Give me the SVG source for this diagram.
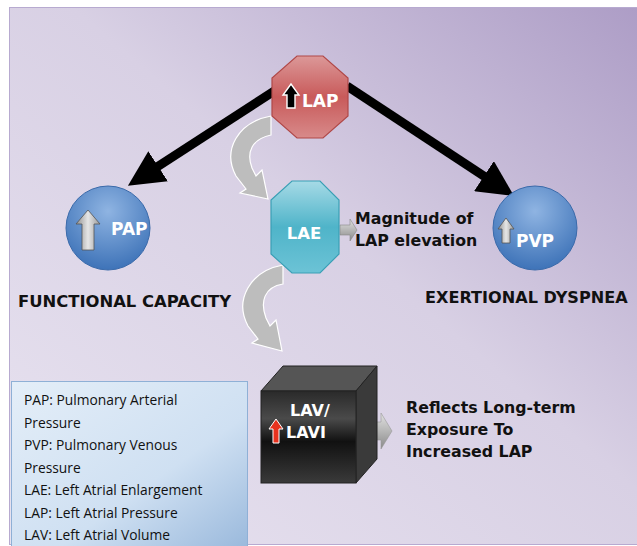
<svg xmlns="http://www.w3.org/2000/svg" width="637" height="546" viewBox="0 0 637 546">
<defs>
<linearGradient id="bg" x1="1" y1="0" x2="0" y2="1">
<stop offset="0" stop-color="#ad9dc6"/>
<stop offset="0.45" stop-color="#d8d0e4"/>
<stop offset="1" stop-color="#e8e3f0"/>
</linearGradient>
<linearGradient id="red" x1="0" y1="0" x2="0" y2="1">
<stop offset="0" stop-color="#dc9898"/>
<stop offset="0.5" stop-color="#c85a5a"/>
<stop offset="1" stop-color="#d88a8a"/>
</linearGradient>
<linearGradient id="teal" x1="0" y1="0" x2="0" y2="1">
<stop offset="0" stop-color="#a6dae6"/>
<stop offset="0.5" stop-color="#4fb4c9"/>
<stop offset="1" stop-color="#6cc3d6"/>
</linearGradient>
<radialGradient id="blue" cx="0.5" cy="0.3" r="0.7">
<stop offset="0" stop-color="#8fb4e2"/>
<stop offset="1" stop-color="#3e73b8"/>
</radialGradient>
<linearGradient id="cube" x1="0" y1="0" x2="0" y2="1">
<stop offset="0" stop-color="#2a2a2a"/>
<stop offset="0.3" stop-color="#4a4a4a"/>
<stop offset="0.55" stop-color="#111"/>
<stop offset="1" stop-color="#3a3a3a"/>
</linearGradient>
<linearGradient id="legend" x1="0" y1="0" x2="1" y2="1">
<stop offset="0" stop-color="#e4eef8"/>
<stop offset="0.6" stop-color="#cfe0f2"/>
<stop offset="1" stop-color="#9ab9dc"/>
</linearGradient>
<linearGradient id="gray" x1="0" y1="0" x2="1" y2="0">
<stop offset="0" stop-color="#8e8e8e"/>
<stop offset="0.5" stop-color="#e6e6e6"/>
<stop offset="1" stop-color="#9a9a9a"/>
</linearGradient>
<linearGradient id="grayv" x1="0" y1="0" x2="0" y2="1">
<stop offset="0" stop-color="#e2e2e2"/>
<stop offset="1" stop-color="#8a8a8a"/>
</linearGradient>
<marker id="ah" viewBox="0 0 10 10" refX="6" refY="5" markerWidth="4" markerHeight="4" orient="auto">
<path d="M0,0 L10,5 L0,10 z" fill="#000"/>
</marker>
</defs>
<style>
.lbl{font-family:"DejaVu Sans",Verdana,sans-serif;font-weight:bold;fill:#fff}
.blk{font-family:"DejaVu Sans",Verdana,sans-serif;font-weight:bold;fill:#111}
.leg{font-family:"Open Sans","Liberation Sans",sans-serif;font-size:13.8px;fill:#111}
.curve{fill:#bdbdbd;stroke:#fff;stroke-width:1.2}
</style>
<rect x="0" y="0" width="637" height="546" fill="#fff"/>
<rect x="9.5" y="7.5" width="628" height="537" fill="url(#bg)" stroke="#b7aad0" stroke-width="1"/>

<g id="connectors">
<line x1="282" y1="86" x2="140" y2="178" stroke="#000" stroke-width="9" marker-end="url(#ah)"/>
<line x1="347" y1="86" x2="502" y2="188" stroke="#000" stroke-width="9" marker-end="url(#ah)"/>
<path class="curve" d="M271,116 C238,122 222,150 236,176 L246,189 L240,193 L268,199 L262,170 L256,176 L252,168 C246,152 252,139 271,135 z"/>
<path class="curve" d="M283,265 C250,271 234,300 248,326 L258,339 L252,343 L282,351 L276,320 L270,326 L266,318 C260,302 264,287 283,284 z"/>
<path d="M340,225 L350,225 L350,219 L357,230 L350,241 L350,235 L340,235 z" fill="url(#grayv)" stroke="#888" stroke-width="0.6"/>
<path d="M362,422 L381,422 L381,413 L392,431 L381,449 L381,440 L362,440 z" fill="url(#grayv)" stroke="#999" stroke-width="0.6"/>
</g>

<g id="node-lap">
<polygon points="297,56 323,56 348,78 348,116 323,138 297,138 272,116 272,78" fill="url(#red)" stroke="#b04848" stroke-width="1.2"/>
<path d="M287,108 L287,95 L283,95 L291,84 L299,95 L295,95 L295,108 z" fill="#000" stroke="#fff" stroke-width="1.4"/>
<text class="lbl" x="302" y="107" font-size="17">LAP</text>
</g>

<g id="node-lae">
<polygon points="292,181 320,181 339,200 339,254 320,273 292,273 271,254 271,200" fill="url(#teal)" stroke="#3a9fb5" stroke-width="1.2"/>
<text class="lbl" x="304" y="239" font-size="16.5" text-anchor="middle">LAE</text>
<text class="blk" x="355" y="224" font-size="15.8">Magnitude of</text>
<text class="blk" x="355" y="246" font-size="15.8">LAP elevation</text>
</g>

<g id="node-pap">
<circle cx="108" cy="228" r="42" fill="url(#blue)" stroke="#3a6aaa" stroke-width="1"/>
<path d="M82,250 L82,224 L76,224 L88,210 L100,224 L94,224 L94,250 z" fill="url(#gray)" stroke="#555" stroke-width="0.8"/>
<text class="lbl" x="111" y="235" font-size="17">PAP</text>
<text class="blk" x="18" y="307" font-size="16.4">FUNCTIONAL CAPACITY</text>
</g>

<g id="node-pvp">
<circle cx="535" cy="228" r="42" fill="url(#blue)" stroke="#3a6aaa" stroke-width="1"/>
<path d="M502,243 L502,229 L498,229 L506,218 L514,229 L510,229 L510,243 z" fill="url(#gray)" stroke="#555" stroke-width="0.8"/>
<text class="lbl" x="516" y="247" font-size="17">PVP</text>
<text class="blk" x="425" y="303" font-size="16.1">EXERTIONAL DYSPNEA</text>
</g>

<g id="node-lav">
<polygon points="261,391 283,366 377,366 356,391" fill="#555" stroke="#222" stroke-width="1"/>
<polygon points="356,391 377,366 377,459 356,483" fill="#3a3a3a" stroke="#222" stroke-width="1"/>
<rect x="261" y="391" width="95" height="92" fill="url(#cube)" stroke="#222" stroke-width="1"/>
<text class="lbl" x="290" y="416" font-size="16">LAV/</text>
<text class="lbl" x="286" y="438" font-size="16">LAVI</text>
<path d="M273,443 L273,429 L269,429 L276,419 L283,429 L279,429 L279,443 z" fill="#e8321e" stroke="#fff" stroke-width="1"/>
<text class="blk" x="406" y="413" font-size="15.8">Reflects Long-term</text>
<text class="blk" x="406" y="435" font-size="15.8">Exposure To</text>
<text class="blk" x="406" y="457" font-size="15.8">Increased LAP</text>
</g>

<g id="legend">
<rect x="11.5" y="381.5" width="236" height="166" fill="url(#legend)" stroke="#8fb0d6" stroke-width="1"/>
<text class="leg" x="24" y="405">PAP: Pulmonary Arterial</text>
<text class="leg" x="24" y="427.5">Pressure</text>
<text class="leg" x="24" y="450">PVP: Pulmonary Venous</text>
<text class="leg" x="24" y="472.5">Pressure</text>
<text class="leg" x="24" y="495">LAE: Left Atrial Enlargement</text>
<text class="leg" x="24" y="517.5">LAP: Left Atrial Pressure</text>
<text class="leg" x="24" y="540">LAV: Left Atrial Volume</text>
</g>
</svg>
